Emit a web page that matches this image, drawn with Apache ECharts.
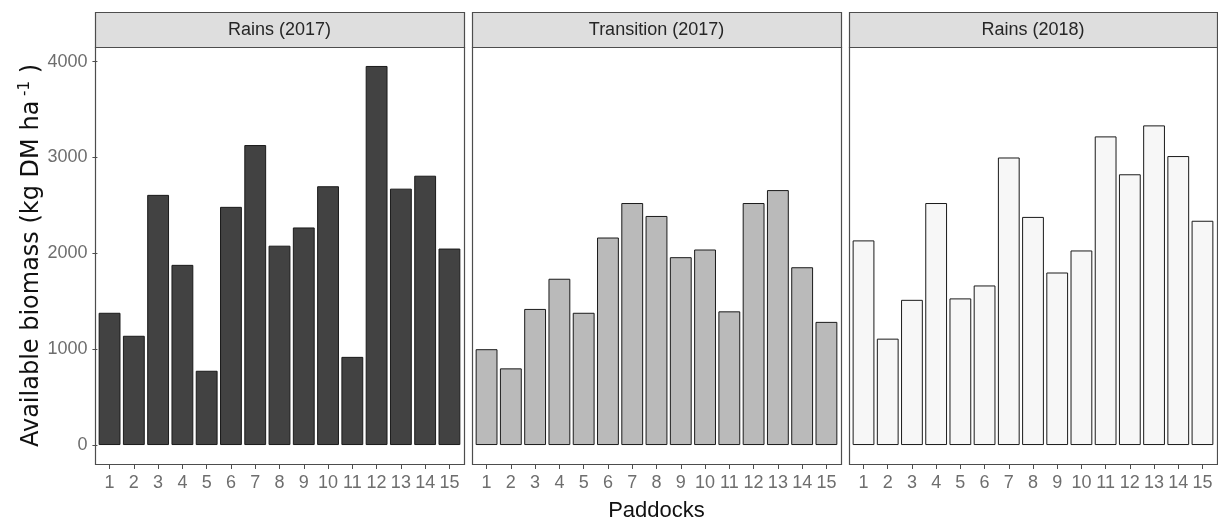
<!DOCTYPE html>
<html>
<head>
<meta charset="utf-8">
<script src="https://cdn.jsdelivr.net/npm/echarts@6/dist/echarts.min.js"></script>
<style>
  html, body { margin: 0; padding: 0; background: #fff; }
  #chart { width: 1218px; height: 522px; }
</style>
</head>
<body>
<div id="chart"></div>
<script>
// data
var paddocks = ['1', '2', '3', '4', '5', '6', '7', '8', '9', '10', '11', '12', '13', '14', '15'];
var panelNames = ['Rains (2017)', 'Transition (2017)', 'Rains (2018)'];
var rains2017 = [1380, 1140, 2610, 1880, 775, 2485, 3130, 2080, 2270, 2700, 920, 3955, 2675, 2810, 2050];
var transition2017 = [1000, 800, 1420, 1735, 1380, 2165, 2525, 2390, 1960, 2040, 1395, 2525, 2660, 1855, 1285];
var rains2018 = [2135, 1110, 1515, 2525, 1530, 1665, 3000, 2380, 1800, 2030, 3220, 2825, 3335, 3015, 2340];
var yTicks = [0, 1000, 2000, 3000, 4000];

var seriesData = [rains2017, transition2017, rains2018];
var fills = ['#424242', '#bababa', '#f7f7f7'];

// layout of the facets (pixels)
var frames = [[95, 464], [472, 841], [849, 1217]];
var stripTop = 12, panelTop = 47, panelBottom = 464;
var sans = "'Liberation Sans', Arial, sans-serif";

// ggplot-like expansion: 5% on y, 0.6 units on discrete x
var allVals = rains2017.concat(transition2017, rains2018);
var yMax = Math.max.apply(null, allVals);
var pad = yMax * 0.05;

var grids = [], xAxes = [], yAxes = [], series = [], graphics = [];

for (var i = 0; i < 3; i++) {
  var fx0 = frames[i][0], fx1 = frames[i][1];
  var fw = fx1 - fx0;
  var unit = fw / (paddocks.length + 0.2);
  var inset = unit * 0.1;
  grids.push({
    left: fx0 + inset,
    top: panelTop,
    width: fw - 2 * inset,
    height: panelBottom - panelTop,
    outerBoundsMode: 'none',
    containLabel: false
  });
  xAxes.push({
    type: 'category',
    gridIndex: i,
    data: paddocks,
    axisLine: { show: false, onZero: false },
    axisTick: { show: true, alignWithLabel: true, length: 5, lineStyle: { color: '#4d4d4d' } },
    axisLabel: { interval: 0, margin: 10, color: '#6e6e6e', fontSize: 18, fontFamily: sans },
    splitLine: { show: false },
    name: i === 1 ? 'Paddocks' : '',
    nameLocation: 'middle',
    nameGap: 36,
    nameTextStyle: { color: '#111', fontSize: 22, fontFamily: sans }
  });
  yAxes.push({
    type: 'value',
    gridIndex: i,
    min: -pad,
    max: yMax + pad,
    axisLine: { show: false, onZero: false },
    splitLine: { show: false },
    axisTick: { show: i === 0, length: 5, lineStyle: { color: '#4d4d4d' }, customValues: yTicks },
    axisLabel: {
      show: i === 0, margin: 10, color: '#6e6e6e', fontSize: 18, fontFamily: sans,
      customValues: yTicks,
      formatter: function (v) { return String(v); }
    },
    name: i === 0 ? '{a|Available biomass (kg DM ha}{s| -1}{a| )}' : '',
    nameLocation: 'middle',
    nameGap: 50,
    nameRotate: 90,
    nameTextStyle: {
      color: '#111',
      rich: {
        a: { fontSize: 24, fontFamily: "'DejaVu Sans', sans-serif", color: '#111', lineHeight: 28 },
        s: { fontSize: 15, fontFamily: "'DejaVu Sans', sans-serif", color: '#111', verticalAlign: 'top', lineHeight: 15 }
      }
    }
  });
  series.push({
    type: 'bar',
    xAxisIndex: i,
    yAxisIndex: i,
    data: seriesData[i],
    barCategoryGap: '10%',
    itemStyle: { color: fills[i], borderColor: '#1a1a1a', borderWidth: 1 },
    emphasis: { disabled: true }
  });
  // panel frame
  graphics.push({
    type: 'rect',
    shape: { x: fx0 + 0.5, y: panelTop + 0.5, width: fw, height: panelBottom - panelTop },
    style: { fill: null, stroke: '#4d4d4d', lineWidth: 1.2 },
    z: 10
  });
  // strip
  graphics.push({
    type: 'rect',
    shape: { x: fx0 + 0.5, y: stripTop + 0.5, width: fw, height: panelTop - stripTop },
    style: { fill: '#dedede', stroke: '#4d4d4d', lineWidth: 1.2 },
    z: 10
  });
  graphics.push({
    type: 'text',
    x: fx0 + fw / 2,
    y: (stripTop + panelTop) / 2 + 1,
    style: {
      text: panelNames[i],
      fill: '#262626',
      fontSize: 18,
      fontFamily: sans,
      align: 'center',
      verticalAlign: 'middle'
    },
    z: 11
  });
}

var myChart = echarts.init(document.getElementById('chart'));
myChart.setOption({
  animation: false,
  backgroundColor: '#fff',
  grid: grids,
  xAxis: xAxes,
  yAxis: yAxes,
  series: series,
  graphic: graphics
});
</script>
</body>
</html>
